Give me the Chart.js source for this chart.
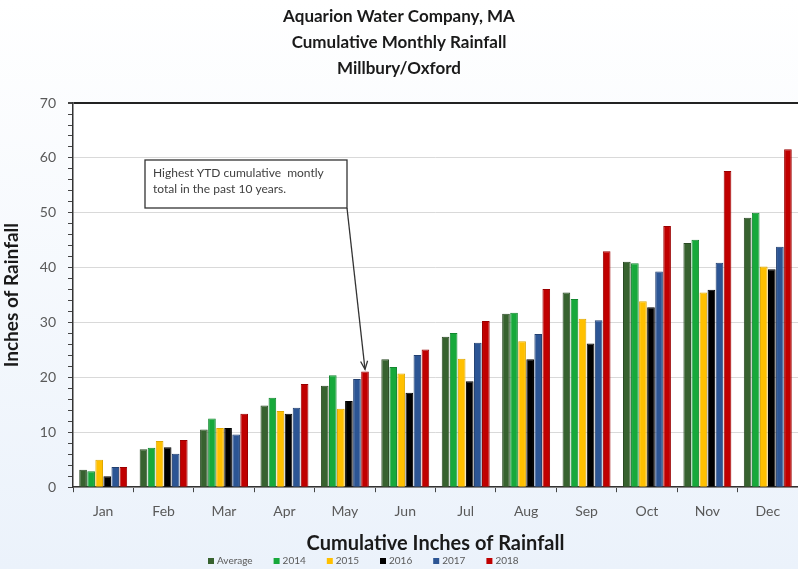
<!DOCTYPE html>
<html>
<head>
<meta charset="utf-8">
<script src="https://cdn.jsdelivr.net/npm/chart.js@4.4.1/dist/chart.umd.min.js"></script>
<style>
    html, body { margin: 0; padding: 0; background: #ffffff; }
    #wrap { width: 798px; height: 569px; }
</style>
</head>
<body>
<div id="wrap"><canvas id="rainChart" width="798" height="569"></canvas></div>
<script>
// Cumulative monthly rainfall, inches
const months = ['Jan', 'Feb', 'Mar', 'Apr', 'May', 'Jun', 'Jul', 'Aug', 'Sep', 'Oct', 'Nov', 'Dec'];
const seriesNames = ['Average', '2014', '2015', '2016', '2017', '2018'];
const avgValues = [3.2, 6.9, 10.5, 14.9, 18.5, 23.3, 27.4, 31.6, 35.5, 41.1, 44.5, 49.1];
const values2014 = [2.9, 7.2, 12.5, 16.3, 20.4, 21.9, 28.1, 31.8, 34.3, 40.8, 45.1, 50.0];
const values2015 = [5.0, 8.4, 10.8, 13.9, 14.3, 20.7, 23.4, 26.6, 30.7, 33.9, 35.5, 40.2];
const values2016 = [2.0, 7.3, 10.8, 13.4, 15.7, 17.2, 19.3, 23.3, 26.2, 32.8, 36.0, 39.7];
const values2017 = [3.7, 6.1, 9.6, 14.5, 19.7, 24.1, 26.3, 27.9, 30.4, 39.3, 40.9, 43.8];
const values2018 = [3.7, 8.6, 13.4, 18.8, 21.1, 25.1, 30.3, 36.1, 43.0, 47.6, 57.6, 61.6];
const yTickMax = 70;

const fillColors = ['#37622f', '#17a93b', '#ffc000', '#000000', '#2c5594', '#c00000'];
const edgeColors = ['#2a4a24', '#12872f', '#e0a800', '#000000', '#213f70', '#9a0000'];
const seriesValues = [avgValues, values2014, values2015, values2016, values2017, values2018];

const fontFamily = 'Lato, "Open Sans", sans-serif';

// page background + white plot area
const backgroundPlugin = {
    id: 'background',
    beforeDraw(chart) {
        const { ctx, chartArea, width, height } = chart;
        ctx.save();
        const grad = ctx.createLinearGradient(0, 0, 0, height);
        grad.addColorStop(0, '#ffffff');
        grad.addColorStop(1, '#ebf2fb');
        ctx.fillStyle = grad;
        ctx.fillRect(0, 0, width, height);
        ctx.fillStyle = '#ffffff';
        ctx.fillRect(chartArea.left, chartArea.top, chartArea.right - chartArea.left, chartArea.bottom - chartArea.top);
        ctx.restore();
    }
};

// callout box with arrow pointing at May 2018
const calloutPlugin = {
    id: 'callout',
    afterDatasetsDraw(chart) {
        const ctx = chart.ctx;
        const bar = chart.getDatasetMeta(5).data[4];
        const box = { x: 145, y: 160, w: 202, h: 48 };
        ctx.save();
        ctx.fillStyle = '#ffffff';
        ctx.fillRect(box.x, box.y, box.w, box.h);
        ctx.strokeStyle = '#333333';
        ctx.lineWidth = 1.3;
        ctx.strokeRect(box.x, box.y, box.w, box.h);
        ctx.fillStyle = '#404040';
        ctx.font = '12px ' + fontFamily;
        ctx.textBaseline = 'middle';
        ctx.fillText('Highest YTD cumulative  montly', box.x + 8, box.y + 13);
        ctx.fillText('total in the past 10 years.', box.x + 8, box.y + 29);

        // arrow
        const sx = box.x + box.w, sy = box.y + box.h;
        const tx = bar.x, ty = bar.y - 2;
        ctx.beginPath();
        ctx.moveTo(sx, sy);
        ctx.lineTo(tx, ty);
        ctx.stroke();
        const ang = Math.atan2(ty - sy, tx - sx);
        const head = 9;
        ctx.beginPath();
        ctx.moveTo(tx - head * Math.cos(ang - 0.4), ty - head * Math.sin(ang - 0.4));
        ctx.lineTo(tx, ty);
        ctx.lineTo(tx - head * Math.cos(ang + 0.4), ty - head * Math.sin(ang + 0.4));
        ctx.stroke();
        ctx.restore();
    }
};

// small legend under the x title
const bottomLegendPlugin = {
    id: 'bottomLegend',
    afterDraw(chart) {
        const ctx = chart.ctx;
        let x = 208;
        const y = 561;
        ctx.save();
        ctx.font = '10px ' + fontFamily;
        ctx.textBaseline = 'middle';
        chart.data.datasets.forEach(ds => {
            ctx.fillStyle = ds.backgroundColor;
            ctx.fillRect(x, y - 3, 6, 6);
            ctx.fillStyle = '#595959';
            ctx.fillText(ds.label, x + 9, y);
            x += 9 + ctx.measureText(ds.label).width + 21;
        });
        ctx.restore();
    }
};

const ctx = document.getElementById('rainChart');

const rainChart = new Chart(ctx, {
    type: 'bar',
    data: {
        labels: months,
        datasets: seriesNames.map((name, i) => ({
            label: name,
            data: seriesValues[i],
            backgroundColor: fillColors[i],
            borderColor: edgeColors[i],
            borderWidth: 1,
            categoryPercentage: 0.8,
            barPercentage: 0.95
        }))
    },
    options: {
        responsive: false,
        animation: false,
        layout: {
            padding: { left: 0, right: 0, top: 0, bottom: 13 }
        },
        plugins: {
            legend: { display: false },
            tooltip: { enabled: false },
            title: {
                display: true,
                text: ['Aquarion Water Company, MA', 'Cumulative Monthly Rainfall', 'Millbury/Oxford'],
                color: '#1a1a1a',
                font: { family: fontFamily, size: 17, weight: 'bold', lineHeight: 1.55 },
                padding: { top: 3, bottom: 21 }
            }
        },
        scales: {
            x: {
                offset: true,
                grid: {
                    drawOnChartArea: false,
                    tickColor: '#444444',
                    tickLength: 5,
                    offset: true
                },
                border: { color: '#333333', width: 1.5 },
                ticks: {
                    color: '#595959',
                    font: { family: fontFamily, size: 14 },
                    padding: 11
                },
                title: {
                    display: true,
                    text: 'Cumulative Inches of Rainfall',
                    color: '#1a1a1a',
                    font: { family: fontFamily, size: 20, weight: 'bold' },
                    padding: { top: 1, bottom: 0 }
                }
            },
            y: {
                min: 0,
                max: yTickMax,
                grid: {
                    color: c => c.tick.value === yTickMax ? '#222222' : (c.tick.value % 10 === 0 ? '#d9d9d9' : 'rgba(0,0,0,0)'),
                    lineWidth: c => c.tick.value === yTickMax ? 2 : 1,
                    tickColor: '#444444',
                    tickLength: 5
                },
                border: { color: '#333333', width: 1.5 },
                ticks: {
                    stepSize: 2,
                    autoSkip: false,
                    color: '#595959',
                    font: { family: fontFamily, size: 14 },
                    padding: 12,
                    callback: v => (v % 10 === 0 ? v : '')
                },
                title: {
                    display: true,
                    text: 'Inches of Rainfall',
                    color: '#1a1a1a',
                    font: { family: fontFamily, size: 19, weight: 'bold' },
                    padding: { top: 0, bottom: 6 }
                },
                afterFit(scale) {
                    scale.width = 73;
                }
            }
        }
    },
    plugins: [backgroundPlugin, calloutPlugin, bottomLegendPlugin]
});
</script>
</body>
</html>
